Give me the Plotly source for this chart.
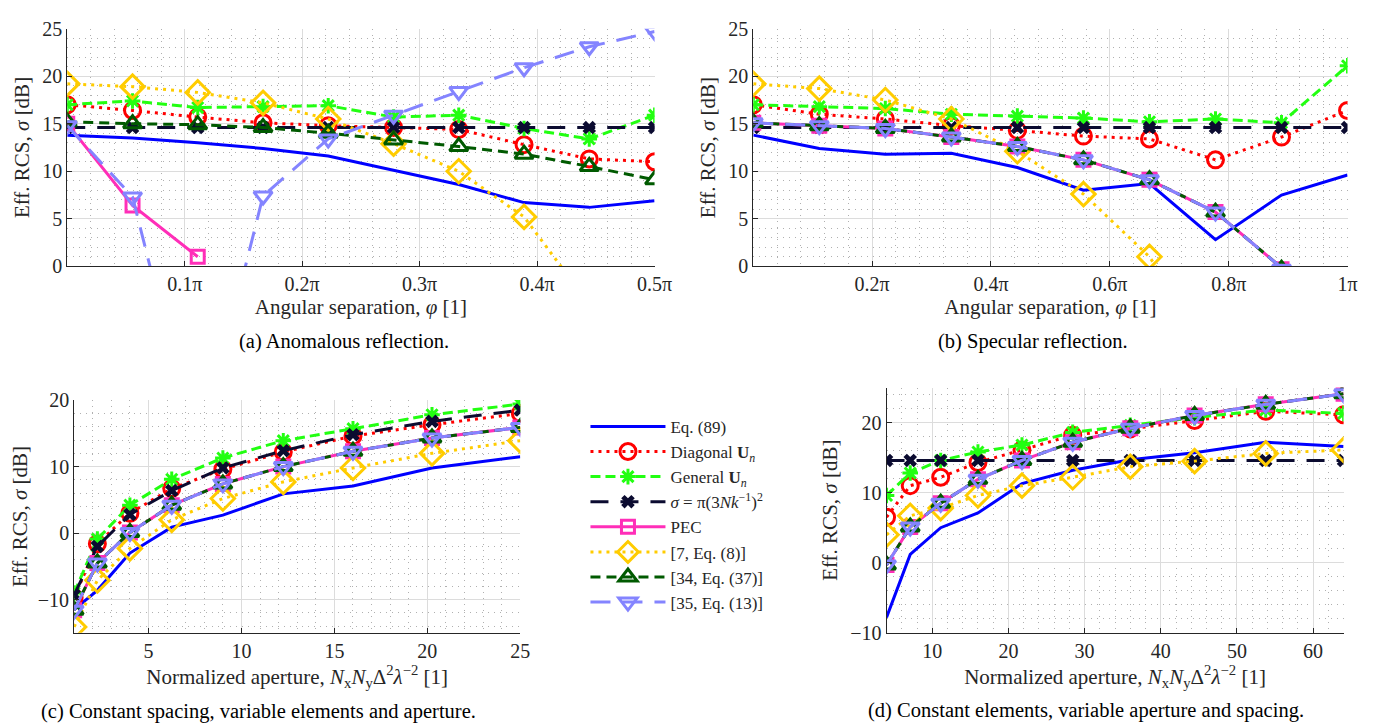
import plotly.graph_objects as go

# ---------------- data ----------------
# (a) anomalous reflection, x in units of pi
phi_a = [0, 0.0556, 0.1111, 0.1667, 0.2222, 0.2778, 0.3333, 0.3889, 0.4444, 0.5]
a_eq89 = [13.8, 13.5, 13.0, 12.4, 11.6, 10.1, 8.6, 6.7, 6.2, 6.9]
a_diag = [17.0, 16.4, 15.7, 15.1, 14.8, 14.6, 14.4, 12.8, 11.3, 11.0]
a_gen = [17.0, 17.4, 16.7, 16.8, 16.9, 15.7, 15.9, 14.5, 13.4, 15.9]
a_sigma = [14.6, 14.6, 14.6, 14.6, 14.6, 14.6, 14.6, 14.6, 14.6, 14.6]
a_pec = [15.0, 6.4, 1.0, None, None, None, None, None, None, None]
a_ref7 = [19.2, 18.9, 18.3, 17.2, 15.5, 12.9, 10.0, 5.2, -4.0, -9.0]
a_ref34 = [15.2, 15.0, 14.9, 14.6, 14.0, 13.3, 12.6, 11.8, 10.5, 9.1]
a_ref35 = [14.8, 7.3, -20.0, 7.4, 13.4, 15.9, 18.4, 20.9, 23.1, 24.7]

# (b) specular reflection, x in units of pi
phi_b = [0, 0.1111, 0.2222, 0.3333, 0.4444, 0.5556, 0.6667, 0.7778, 0.8889, 1.0]
b_eq89 = [13.8, 12.4, 11.8, 11.9, 10.4, 8.0, 8.7, 2.8, 7.5, 9.6]
b_diag = [17.0, 16.0, 15.5, 14.8, 14.3, 13.7, 13.4, 11.2, 13.6, 16.4]
b_gen = [17.0, 16.8, 16.6, 16.0, 15.8, 15.6, 15.2, 15.5, 15.1, 21.1]
b_sigma = [14.6, 14.6, 14.6, 14.6, 14.6, 14.6, 14.6, 14.6, 14.6, 14.6]
b_pec = [15.1, 14.8, 14.5, 13.6, 12.6, 11.2, 9.1, 5.7, -0.3, -6.0]
b_ref7 = [19.2, 18.7, 17.5, 15.5, 12.1, 7.6, 1.0, -10.0, -20.0, -30.0]
b_ref34 = [15.1, 14.8, 14.5, 13.6, 12.6, 11.2, 9.1, 5.7, -0.3, -6.0]
b_ref35 = [15.1, 14.8, 14.5, 13.6, 12.6, 11.2, 9.1, 5.7, -0.3, -6.0]

# (c) constant spacing
ap_c = [1, 2.25, 4, 6.25, 9, 12.25, 16, 20.25, 25]
c_eq89 = [-11.5, -8.6, -3.0, 0.9, 2.7, 5.9, 7.1, 9.8, 11.5]
c_diag = [-9.7, -1.6, 3.0, 6.7, 9.6, 12.2, 14.6, 16.3, 18.0]
c_gen = [-9.0, -0.9, 4.2, 8.1, 11.3, 13.9, 15.7, 17.8, 19.4]
c_sigma = [-9.3, -2.0, 2.8, 6.4, 9.8, 12.4, 14.8, 16.8, 18.5]
c_pec = [-11.6, -4.5, 0.1, 4.2, 7.4, 10.0, 12.3, 14.3, 15.9]
c_ref7 = [-14.1, -7.1, -2.3, 2.0, 5.2, 7.7, 9.8, 12.0, 13.9]
c_ref34 = [-11.6, -4.5, 0.1, 4.2, 7.4, 10.0, 12.3, 14.3, 15.9]
c_ref35 = [-11.6, -4.5, 0.1, 4.2, 7.4, 10.0, 12.3, 14.3, 15.9]

# (d) constant elements
ap_d = [4, 7.11, 11.11, 16, 21.78, 28.44, 36, 44.44, 53.78, 64]
d_eq89 = [-7.8, 1.2, 5.0, 7.1, 11.3, 13.2, 14.7, 15.7, 17.2, 16.6]
d_diag = [6.5, 11.0, 12.2, 14.3, 16.1, 18.2, 19.1, 20.3, 21.6, 21.1]
d_gen = [9.6, 12.8, 14.6, 15.8, 16.8, 18.6, 19.6, 20.7, 21.8, 21.3]
d_sigma = [14.6, 14.6, 14.6, 14.6, 14.6, 14.6, 14.6, 14.6, 14.6, 14.6]
d_pec = [-0.3, 5.1, 8.5, 11.9, 14.6, 17.2, 19.2, 21.0, 22.6, 24.1]
d_ref7 = [4.0, 6.7, 7.8, 9.6, 11.0, 12.2, 13.7, 14.5, 15.6, 16.1]
d_ref34 = [-0.3, 5.1, 8.5, 11.9, 14.6, 17.2, 19.2, 21.0, 22.6, 24.1]
d_ref35 = [-0.3, 5.1, 8.5, 11.9, 14.6, 17.2, 19.2, 21.0, 22.6, 24.1]

series_names = [
    "Eq. (89)",
    "Diagonal <b>U</b><sub><i>n</i></sub>",
    "General <b>U</b><sub><i>n</i></sub>",
    "<i>σ</i> = π(3<i>Nk</i><sup>−1</sup>)<sup>2</sup>",
    "PEC",
    "[7, Eq. (8)]",
    "[34, Eq. (37)]",
    "[35, Eq. (13)]",
]

# ---------------- styles ----------------
styles = [
    dict(color="#0000FF", dash="solid", symbol=None, msize=0),
    dict(color="#FF0000", dash="3px,5px", symbol="circle-open", msize=16),
    dict(color="#22FF11", dash="10px,5px", symbol="asterisk-open", msize=13),
    dict(color="#0B0B30", dash="18px,12px", symbol="x", msize=12),
    dict(color="#FF2EB8", dash="solid", symbol="square-open", msize=13),
    dict(color="#FFCC00", dash="3px,5px", symbol="diamond-open", msize=18),
    dict(color="#005A00", dash="10px,6px", symbol="triangle-up-open", msize=16),
    dict(color="#8484FF", dash="20px,12px", symbol="triangle-down-open", msize=16),
]

panels = [
    ("x", "y", phi_a, [a_eq89, a_diag, a_gen, a_sigma, a_pec, a_ref7, a_ref34, a_ref35]),
    ("x2", "y2", phi_b, [b_eq89, b_diag, b_gen, b_sigma, b_pec, b_ref7, b_ref34, b_ref35]),
    ("x3", "y3", ap_c, [c_eq89, c_diag, c_gen, c_sigma, c_pec, c_ref7, c_ref34, c_ref35]),
    ("x4", "y4", ap_d, [d_eq89, d_diag, d_gen, d_sigma, d_pec, d_ref7, d_ref34, d_ref35]),
]

fig = go.Figure()
for pi_, (xa, ya, xs, ys_list) in enumerate(panels):
    for si, ys in enumerate(ys_list):
        st = styles[si]
        mode = "lines" if st["symbol"] is None else "lines+markers"
        marker = None
        if st["symbol"] is not None:
            if st["symbol"] == "x":
                marker = dict(symbol="x", size=st["msize"], color=st["color"],
                              line=dict(width=0))
            else:
                marker = dict(symbol=st["symbol"], size=st["msize"], color=st["color"],
                              line=dict(width=3, color=st["color"]))
        fig.add_trace(go.Scatter(
            x=xs, y=ys, xaxis=xa, yaxis=ya, mode=mode,
            name=series_names[si], legendgroup=str(si), showlegend=(pi_ == 0),
            line=dict(color=st["color"], width=3, dash=st["dash"]),
            marker=marker, cliponaxis=True,
        ))

FONT = "Liberation Serif, DejaVu Serif, Times New Roman, serif"
W, H = 1398, 728

def dom_x(a, b):
    return [a / W, b / W]

def dom_y(top, bottom):
    return [1 - bottom / H, 1 - top / H]

axis_common = dict(
    showline=True, linecolor="#262626", linewidth=1, mirror=False,
    ticks="inside", ticklen=5, tickcolor="#262626",
    showgrid=True, gridcolor="#DCDCDC", gridwidth=1, zeroline=False,
)

def minor(d):
    return dict(dtick=d, showgrid=True, gridcolor="#B0B0B0", griddash="1px,5px", gridwidth=1, ticks="")

TF = dict(family=FONT, size=21, color="#262626")
ytitle = dict(text="Eff. RCS, <i>σ</i> [dB]", font=TF, standoff=6)
xtitle_ang = dict(text="Angular separation, <i>φ</i> [1]", font=TF, standoff=3)
xtitle_ap = dict(text="Normalized aperture, <i>N</i><sub>x</sub><i>N</i><sub>y</sub>Δ<sup>2</sup><i>λ</i><sup>−2</sup> [1]",
                 font=TF, standoff=3)

fig.update_layout(
    width=W, height=H,
    margin=dict(l=0, r=0, t=0, b=0),
    paper_bgcolor="white", plot_bgcolor="white",
    font=dict(family=FONT, size=20, color="#262626"),
    xaxis=dict(domain=dom_x(60, 655), range=[0, 0.5], anchor="y",
               tickvals=[0.1, 0.2, 0.3, 0.4, 0.5], ticktext=["0.1π", "0.2π", "0.3π", "0.4π", "0.5π"],
               minor=minor(0.02), title=xtitle_ang, **axis_common),
    yaxis=dict(domain=dom_y(10, 255), range=[0, 25], anchor="x", dtick=5,
               minor=minor(1), title=ytitle, **axis_common),
    xaxis2=dict(domain=dom_x(755, 1357), range=[0, 1], anchor="y2",
                tickvals=[0.2, 0.4, 0.6, 0.8, 1.0], ticktext=["0.2π", "0.4π", "0.6π", "0.8π", "1π"],
                minor=minor(0.04), title=xtitle_ang, **axis_common),
    yaxis2=dict(domain=dom_y(10, 255), range=[0, 25], anchor="x2", dtick=5,
                minor=minor(1), title=ytitle, **axis_common),
    xaxis3=dict(domain=dom_x(67, 519), range=[1, 25], anchor="y3",
                tickvals=[5, 10, 15, 20, 25], minor=minor(1), title=xtitle_ap, **axis_common),
    yaxis3=dict(domain=dom_y(393, 633), range=[-15, 20], anchor="x3",
                tickvals=[-10, 0, 10, 20], minor=minor(2), title=ytitle, **axis_common),
    xaxis4=dict(domain=dom_x(890, 1353), range=[4, 64], anchor="y4",
                tickvals=[10, 20, 30, 40, 50, 60], minor=minor(2), title=xtitle_ap, **axis_common),
    yaxis4=dict(domain=dom_y(380, 633), range=[-10, 25], anchor="x4",
                tickvals=[-10, 0, 10, 20], minor=minor(2), title=ytitle, **axis_common),
    legend=dict(x=585 / W, y=1 - 402 / H, xanchor="left", yanchor="top",
                font=dict(family=FONT, size=17, color="#262626"),
                bgcolor="rgba(0,0,0,0)", itemwidth=75, tracegroupgap=0),
)
fig.update_xaxes(tickfont=dict(family=FONT, size=20, color="#262626"))
fig.update_yaxes(tickfont=dict(family=FONT, size=20, color="#262626"))

captions = [
    (340, 333, "(a) Anomalous reflection."),
    (1038, 333, "(b) Specular reflection."),
    (254, 714, "(c) Constant spacing, variable elements and aperture."),
    (1092, 713, "(d) Constant elements, variable aperture and spacing."),
]
for cx, cy, txt in captions:
    fig.add_annotation(x=cx / W, y=1 - cy / H, xref="paper", yref="paper", text=txt,
                       showarrow=False, xanchor="center", yanchor="middle",
                       font=dict(family=FONT, size=20.5, color="black"))

fig.write_html("out.html")
